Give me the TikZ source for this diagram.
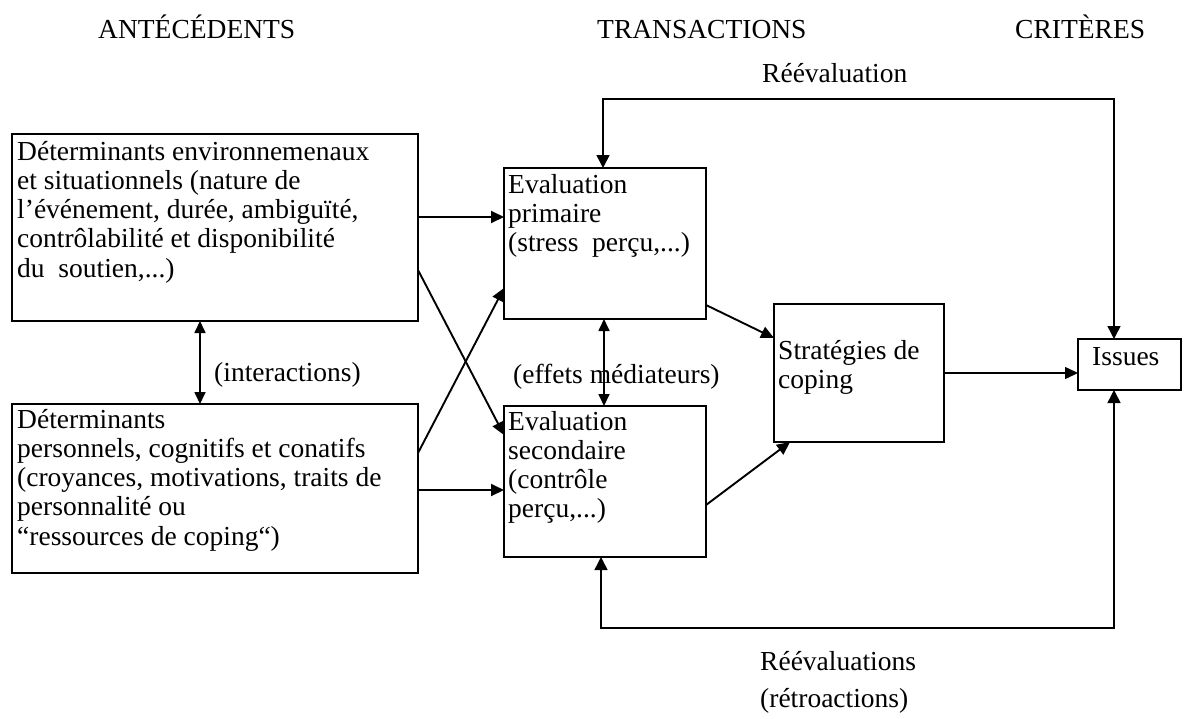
\documentclass[tikz,border=0pt]{standalone}
\usepackage{fontspec}
\setmainfont{Liberation Serif}
\usetikzlibrary{arrows.meta}
\begin{document}
\begin{tikzpicture}[x=1pt,y=-1pt,
  box/.style={draw, line width=2pt, inner sep=0pt, outer sep=0pt, anchor=north west},
  txt/.style={font=\fontsize{27.5}{29.3}\selectfont, inner sep=0pt, anchor=base west, align=left},
  arr/.style={line width=1.9pt, -{Triangle[length=13pt,width=12pt]}},
  darr/.style={line width=1.7pt, {Triangle[length=12pt,width=11pt]}-{Triangle[length=12pt,width=11pt]}},
  loop/.style={line width=1.5pt, {Triangle[length=13pt,width=13pt]}-{Triangle[length=13pt,width=13pt]}}
]
\useasboundingbox (0,0) rectangle (1188,718);
\fill[white] (0,0) rectangle (1188,718);

% headings
\node[txt] (h1) at (98,38) {ANTÉCÉDENTS};
\node[txt] (h2) at (597,38) {TRANSACTIONS};
\node[txt] (h3) at (1015,38) {CRITÈRES};

% boxes
\node[box, minimum width=406pt, minimum height=187pt] (A) at (12,134) {};
\node[box, minimum width=406pt, minimum height=169pt] (B) at (12,404) {};
\node[box, minimum width=202pt, minimum height=151pt] (C) at (504,168) {};
\node[box, minimum width=202pt, minimum height=151pt] (D) at (504,406) {};
\node[box, line width=1.6pt, minimum width=170pt, minimum height=138pt] (E) at (774,304) {};
\node[box, line width=1.4pt, minimum width=103pt, minimum height=51pt] (F) at (1078,339) {};

% box texts (anchor = baseline of last line)
\node[txt] (tA) at (17,277.2) {Déterminants environnemenaux\\et situationnels (nature de\\l’événement, durée, ambiguïté,\\contrôlabilité et disponibilité\\du\ \ soutien,...)};
\node[txt] (tB) at (17,545.2) {Déterminants\\personnels, cognitifs et conatifs\\(croyances, motivations, traits de\\personnalité ou\\“ressources de coping“)};
\node[txt] (tC) at (508,251.6) {Evaluation\\primaire\\(stress\ \ perçu,...)};
\node[txt] (tD) at (508,517.9) {Evaluation\\secondaire\\(contrôle\\perçu,...)};
\node[txt] (tE) at (778,388.3) {Stratégies de\\coping};
\node[txt] (tF) at (1092,365) {Issues};

% labels
\node[txt] (lint) at (214,381) {(interactions)};
\node[txt] (leff) at (513,383) {(effets médiateurs)};
\node[txt] (lre1) at (762,82) {Réévaluation};
\node[txt] (lre2) at (760,670) {Réévaluations};
\node[txt] (lre3) at (760,707) {(rétroactions)};

% connectors
\draw[arr] (A.east |- 0,217) -- (C.west |- 0,217);
\draw[arr] (A.east |- 0,270) -- (D.west |- 0,435);
\draw[arr] (B.east |- 0,453) -- (C.west |- 0,288);
\draw[arr] (B.east |- 0,490) -- (D.west |- 0,490);
\draw[arr] (C.east |- 0,305) -- (E.west |- 0,338);
\draw[arr] (D.east |- 0,505) -- (790,0 |- E.south);
\draw[arr, line width=1.5pt] (E.east |- 0,373) -- (F.west |- 0,373);
\draw[darr] (200,0 |- A.south) -- (200,0 |- B.north);
\draw[darr] (604,0 |- C.south) -- (604,0 |- D.north);
\draw[loop] (603,0 |- C.north) -- (603,99) -- (1114,99) -- (1114,0 |- F.north);
\draw[loop] (601,0 |- D.south) -- (601,628) -- (1114,628) -- (1114,0 |- F.south);
\end{tikzpicture}
\end{document}
